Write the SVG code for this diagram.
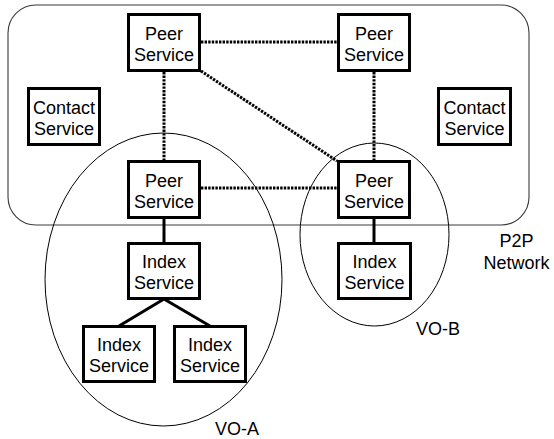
<svg xmlns="http://www.w3.org/2000/svg" width="554" height="439" viewBox="0 0 554 439">
<style>
.box{fill:#fff;stroke:#000;stroke-width:3}
.t{font-family:"Liberation Sans",Arial,sans-serif;font-size:18px;fill:#000;text-anchor:middle}
.dot{stroke:#000;stroke-width:3;stroke-dasharray:2.4 1.2;fill:none}
.sol{stroke:#000;stroke-width:3;fill:none}
.reg{fill:none;stroke:#000;stroke-width:1}
</style>
<rect width="554" height="439" fill="#fff"/>
<g id="p2p-network">
<rect x="8" y="5" width="521" height="220" rx="28" ry="28" fill="none" stroke="#3a3a3a" stroke-width="1.1"/>
<text class="t" x="516.5" y="247">P2P</text>
<text class="t" x="516.5" y="269">Network</text>
</g>
<g id="vo-a">
<ellipse class="reg" cx="163.5" cy="279.5" rx="118.5" ry="146.5"/>
<text class="t" x="237" y="435">VO-A</text>
</g>
<g id="vo-b">
<ellipse class="reg" cx="374.5" cy="234.5" rx="74.5" ry="91.5"/>
<text class="t" x="438" y="335">VO-B</text>
</g>
<g id="connectors">
<line class="dot" x1="201" y1="42" x2="337" y2="42"/>
<line class="dot" x1="164" y1="72" x2="164" y2="161"/>
<line class="dot" x1="374" y1="72" x2="374" y2="161"/>
<line class="dot" x1="201" y1="71" x2="337" y2="161"/>
<line class="dot" x1="201" y1="188" x2="337" y2="188"/>
<line class="sol" x1="164" y1="218" x2="164" y2="243"/>
<line class="sol" x1="374" y1="218" x2="374" y2="243"/>
<line class="sol" x1="164" y1="299" x2="119" y2="326"/>
<line class="sol" x1="164" y1="299" x2="210" y2="326"/>
</g>
<g id="peer-tl">
<rect class="box" x="128.5" y="14.5" width="71" height="56"/>
<text class="t" x="164" y="39.5">Peer</text>
<text class="t" x="164" y="60.5">Service</text>
</g>
<g id="peer-tr">
<rect class="box" x="338.5" y="14.5" width="71" height="56"/>
<text class="t" x="374" y="39.5">Peer</text>
<text class="t" x="374" y="60.5">Service</text>
</g>
<g id="contact-l">
<rect class="box" x="28.5" y="88.5" width="71" height="56"/>
<text class="t" x="64" y="113.5">Contact</text>
<text class="t" x="64" y="134.5">Service</text>
</g>
<g id="contact-r">
<rect class="box" x="438.5" y="88.5" width="72" height="56"/>
<text class="t" x="474.5" y="113.5">Contact</text>
<text class="t" x="474.5" y="134.5">Service</text>
</g>
<g id="peer-ml">
<rect class="box" x="128.5" y="161.5" width="71" height="56"/>
<text class="t" x="164" y="186.5">Peer</text>
<text class="t" x="164" y="207.5">Service</text>
</g>
<g id="peer-mr">
<rect class="box" x="338.5" y="161.5" width="71" height="56"/>
<text class="t" x="374" y="186.5">Peer</text>
<text class="t" x="374" y="207.5">Service</text>
</g>
<g id="index-a">
<rect class="box" x="128.5" y="243.5" width="71" height="55"/>
<text class="t" x="164" y="268">Index</text>
<text class="t" x="164" y="289">Service</text>
</g>
<g id="index-b">
<rect class="box" x="338.5" y="243.5" width="72" height="55"/>
<text class="t" x="374.5" y="268">Index</text>
<text class="t" x="374.5" y="289">Service</text>
</g>
<g id="index-a1">
<rect class="box" x="83.5" y="326.5" width="71" height="55"/>
<text class="t" x="119" y="351">Index</text>
<text class="t" x="119" y="372">Service</text>
</g>
<g id="index-a2">
<rect class="box" x="174.5" y="326.5" width="71" height="55"/>
<text class="t" x="210" y="351">Index</text>
<text class="t" x="210" y="372">Service</text>
</g>
</svg>
